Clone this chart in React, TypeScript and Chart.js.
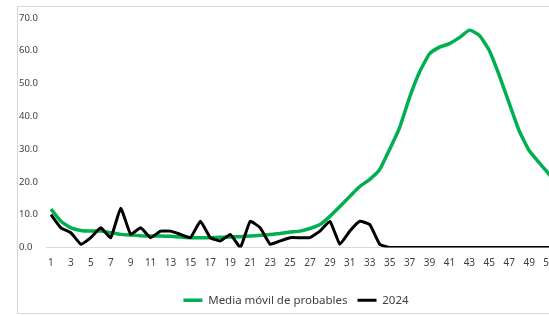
import React, { useEffect, useRef } from "react";
import { Chart, registerables } from "chart.js";

Chart.register(...registerables);

const weeks = [
  "1","2","3","4","5","6","7","8","9","10","11","12","13","14","15","16","17","18","19","20",
  "21","22","23","24","25","26","27","28","29","30","31","32","33","34","35","36","37","38","39","40",
  "41","42","43","44","45","46","47","48","49","50","51","52",
];

const mediaMovil = [
  11.7, 8.0, 6.0, 5.2, 5.0, 5.0, 4.5, 4.0, 3.8, 3.6,
  3.5, 3.5, 3.4, 3.2, 3.0, 3.0, 3.0, 3.1, 3.2, 3.3,
  3.5, 3.7, 4.0, 4.3, 4.7, 5.0, 5.8, 7.0, 9.5, 12.5,
  15.6, 18.6, 20.8, 23.8, 30.0, 36.6, 45.8, 53.5, 59.1, 61.1,
  62.2, 64.0, 66.3, 64.7, 60.1, 52.5, 44.0, 35.6, 29.6, 25.9,
  22.4, 18.5,
];

const y2024 = [
  10, 6, 4.5, 1, 3, 6, 3, 12, 4, 6,
  3, 5, 5, 4, 3, 8, 3, 2, 4, 0,
  8, 6, 1, 2, 3, 3, 3, 5, 8, 1,
  5, 8, 7, 1, 0, 0, 0, 0, 0, 0,
  0, 0, 0, 0, 0, 0, 0, 0, 0, 0,
  0, 0,
];

const yTicks = [0, 10, 20, 30, 40, 50, 60, 70];

export default function App() {
  const ref = useRef<HTMLCanvasElement | null>(null);

  useEffect(() => {
    document.body.style.margin = "0";
    document.body.style.overflow = "hidden";
    const canvas = ref.current;
    if (!canvas) return;
    const chart = new Chart(canvas, {
      type: "line",
      data: {
        labels: weeks,
        datasets: [
          {
            label: "2024",
            data: y2024,
            borderColor: "#000000",
            backgroundColor: "#000000",
            borderWidth: 3,
            pointRadius: 0,
            tension: 0.12,
            pointStyle: "line",
          },
          {
            label: "Media móvil de probables",
            data: mediaMovil,
            borderColor: "#00b050",
            backgroundColor: "#00b050",
            borderWidth: 3.5,
            pointRadius: 0,
            tension: 0.15,
            pointStyle: "line",
          },
        ],
      },
      options: {
        responsive: false,
        animation: false,
        devicePixelRatio: 1,
        layout: { padding: { left: 19, top: 18, right: 27, bottom: 0 } },
        plugins: {
          tooltip: { enabled: false },
          legend: {
            position: "bottom",
            labels: {
              usePointStyle: true,
              pointStyleWidth: 19,
              padding: 10,
              color: "#404040",
              font: { family: "'Noto Sans', sans-serif", size: 11.5 },
              sort: (a: any, b: any) => b.datasetIndex - a.datasetIndex,
            },
          },
        },
        scales: {
          x: {
            offset: true,
            grid: { display: false, drawTicks: false },
            border: { display: true, color: "#d9d9d9", width: 1 },
            ticks: {
              autoSkip: false,
              maxRotation: 0,
              padding: 10,
              color: "#404040",
              font: { family: "'Noto Sans', sans-serif", size: 10 },
              callback: (_v: any, i: number) => (i % 2 === 0 ? weeks[i] : ""),
            },
            afterFit: (s: any) => {
              s.height = 37;
            },
          },
          y: {
            min: 0,
            max: 70,
            grid: { display: false },
            border: { display: false },
            afterBuildTicks: (s: any) => {
              s.ticks = yTicks.map((v) => ({ value: v }));
            },
            ticks: {
              crossAlign: "far",
              color: "#404040",
              font: { family: "'Noto Sans', sans-serif", size: 9.5 },
              callback: (v: any) => Number(v).toFixed(1),
            },
            afterFit: (s: any) => {
              s.width = 27;
            },
          },
          y2: {
            position: "right",
            display: true,
            grid: { display: false },
            border: { display: false },
            ticks: { display: false },
            afterFit: (s: any) => {
              s.width = 9;
            },
          },
        },
      },
    });
    return () => chart.destroy();
  }, []);

  return (
    <div
      style={{
        position: "fixed",
        left: 0,
        top: 0,
        width: 549,
        height: 316,
        overflow: "hidden",
        background: "#ffffff",
      }}
    >
      <div
        style={{
          position: "absolute",
          left: 17,
          top: 6,
          width: 620,
          height: 306,
          border: "1px solid #d9d9d9",
        }}
      />
      <canvas
        ref={ref}
        width={600}
        height={316}
        style={{ position: "absolute", left: 0, top: 0, width: 600, height: 316 }}
      />
    </div>
  );
}
